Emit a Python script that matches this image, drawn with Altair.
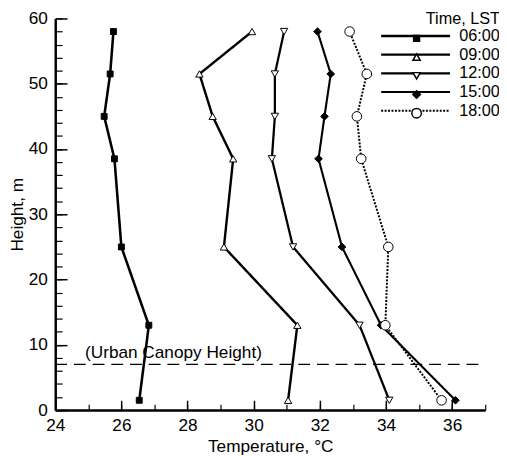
import altair as alt
import pandas as pd

# ---------------- data ----------------
times = ["06:00", "09:00", "12:00", "15:00", "18:00"]
heights = [1.5, 13, 25, 38.5, 45, 51.5, 58]
temp_0600 = [26.54, 26.83, 26.0, 25.79, 25.48, 25.66, 25.76]
temp_0900 = [31.04, 31.32, 29.1, 29.38, 28.76, 28.36, 29.95]
temp_1200 = [34.1, 33.2, 31.19, 30.55, 30.64, 30.64, 30.92]
temp_1500 = [36.1, 33.85, 32.67, 31.96, 32.14, 32.33, 31.93]
temp_1800 = [35.68, 33.98, 34.07, 33.25, 33.12, 33.42, 32.9]

canopy_height = 7
canopy_label = "(Urban Canopy Height)"
canopy_label_temp = 24.9
canopy_label_height = 8.8

x_domain = [24, 37]
y_domain = [0, 60]
x_major = [24, 26, 28, 30, 32, 34, 36]
x_minor = list(range(24, 38))
y_major = [0, 10, 20, 30, 40, 50, 60]
y_minor = list(range(0, 61, 2))

series = {
    "06:00": temp_0600,
    "09:00": temp_0900,
    "12:00": temp_1200,
    "15:00": temp_1500,
    "18:00": temp_1800,
}
rows = []
for t in times:
    for h, v in zip(heights, series[t]):
        rows.append({"time": t, "time_m": t, "height": h, "temp": v})
df = pd.DataFrame(rows)

# ---------------- layout ----------------
W, H = 437, 398
F = "Liberation Sans"
FS = 17.5
LFS = 16.5
ROWPAD = 2

x_scale = alt.Scale(domain=x_domain, nice=False, zero=False)
y_scale = alt.Scale(domain=y_domain, nice=False, zero=False)

line_legend = dict(
    orient="none", legendX=358, legendY=-7,
    title="Time, LST",
    titleFont=F, titleFontSize=LFS, titleFontWeight="normal", titleColor="black",
    titleAnchor="end", titlePadding=0,
    labelFont=F, labelFontSize=LFS, labelColor="black",
    labelOffset=36, rowPadding=ROWPAD, padding=0,
    symbolType="M-7,0H7", symbolSize=100,
)
marker_legend = dict(
    orient="none", legendX=359, legendY=12,
    title=None, labelExpr="''",
    labelFont=F, labelFontSize=LFS,
    rowPadding=ROWPAD, padding=0,
)

# lines (carry the main labelled axes + line legend)
lines = alt.Chart(df).mark_line(color="black").encode(
    x=alt.X("temp:Q", scale=x_scale,
            axis=alt.Axis(orient="bottom", values=x_major, ticks=False, tickSize=0,
                          domainWidth=2.5, domainColor="black", labelFlush=False,
                          labelFont=F, labelFontSize=FS, labelColor="black",
                          labelPadding=7, title="Temperature, °C",
                          titleFont=F, titleFontSize=FS, titleFontWeight="normal",
                          titleColor="black", titlePadding=4, grid=False)),
    y=alt.Y("height:Q", scale=y_scale,
            axis=alt.Axis(orient="left", values=y_major, ticks=False, tickSize=0,
                          domainWidth=2.5, domainColor="black", labelFlush=False,
                          labelFont=F, labelFontSize=FS, labelColor="black",
                          labelPadding=8, title="Height, m", titleX=-29,
                          titleFont=F, titleFontSize=FS, titleFontWeight="normal",
                          titleColor="black", grid=False)),
    order="height:Q",
    strokeDash=alt.StrokeDash(
        "time:N",
        scale=alt.Scale(domain=times, range=[[1, 0], [1, 0], [1, 0], [1, 0], [2, 1.5]]),
        legend=alt.Legend(**line_legend)),
    strokeWidth=alt.StrokeWidth(
        "time:N",
        scale=alt.Scale(domain=times, range=[2.6, 2, 2, 2.6, 1.2]),
        legend=alt.Legend(**line_legend)),
)

# points (carry inward major ticks + marker legend)
points = alt.Chart(df).mark_point(filled=True, stroke="black", strokeWidth=1, opacity=1).encode(
    x=alt.X("temp:Q", scale=x_scale,
            axis=alt.Axis(orient="top", offset=-H, values=x_major, labels=False, domain=False,
                          ticks=True, tickSize=10, tickWidth=1.5, tickColor="black",
                          title=None, grid=False)),
    y=alt.Y("height:Q", scale=y_scale,
            axis=alt.Axis(orient="right", offset=-W, values=y_major, labels=False, domain=False,
                          ticks=True, tickSize=12, tickWidth=1.5, tickColor="black",
                          title=None, grid=False)),
    shape=alt.Shape("time_m:N",
                    scale=alt.Scale(range=["square", "triangle-up", "triangle-down", "diamond", "circle"]),
                    legend=alt.Legend(**marker_legend)),
    fill=alt.Fill("time_m:N",
                  scale=alt.Scale(range=["black", "white", "white", "black", "white"]),
                  legend=alt.Legend(**marker_legend)),
    size=alt.Size("time_m:N",
                  scale=alt.Scale(type="ordinal", range=[36, 55, 55, 60, 95]),
                  legend=alt.Legend(**marker_legend)),
)

# canopy dashed line (carries inward minor ticks)
canopy_df = pd.DataFrame({"h": [canopy_height], "x0": [x_domain[0]], "x1": [x_domain[1]]})
rule = alt.Chart(canopy_df).mark_rule(strokeDash=[12, 7], strokeWidth=1.3, color="black").encode(
    x=alt.X("x0:Q", scale=x_scale,
            axis=alt.Axis(orient="top", offset=-H, values=x_minor, labels=False, domain=False,
                          ticks=True, tickSize=6, tickWidth=1.2, tickColor="black",
                          title=None, grid=False)),
    x2="x1:Q",
    y=alt.Y("h:Q", scale=y_scale,
            axis=alt.Axis(orient="right", offset=-W, values=y_minor, labels=False, domain=False,
                          ticks=True, tickSize=7, tickWidth=1.2, tickColor="black",
                          title=None, grid=False)),
)

label_df = pd.DataFrame({"t": [canopy_label_temp], "h": [canopy_label_height], "label": [canopy_label]})
text = alt.Chart(label_df).mark_text(align="left", baseline="middle", font=F, fontSize=FS,
                                     color="black").encode(
    x=alt.X("t:Q", scale=x_scale, axis=None),
    y=alt.Y("h:Q", scale=y_scale, axis=None),
    text="label:N",
)

chart = alt.layer(rule, lines, points, text).resolve_axis(
    x="independent", y="independent"
).properties(
    width=W, height=H,
    padding={"left": 48, "top": 7, "right": 14, "bottom": 43},
    autosize=alt.AutoSizeParams(type="none"),
    background="white",
).configure_view(stroke=None)

chart.save("out.html", embed_options={"renderer": "svg", "actions": False})
